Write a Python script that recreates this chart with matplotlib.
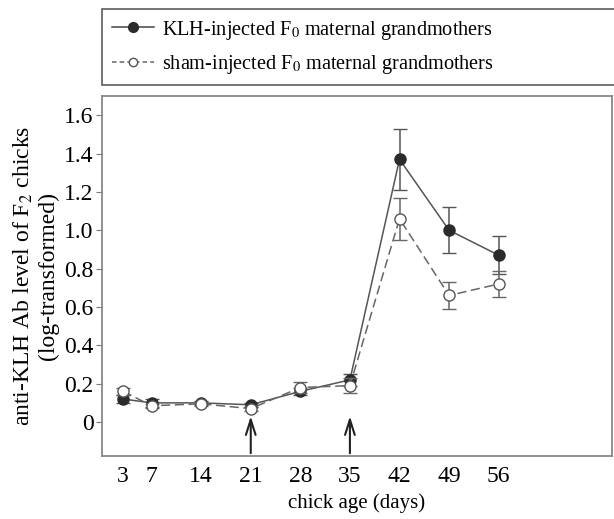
import matplotlib.pyplot as plt
from matplotlib.lines import Line2D

plt.rcParams['font.family'] = ['Liberation Serif', 'DejaVu Serif']
plt.rcParams['mathtext.fontset'] = 'stix'

days = [3, 7, 14, 21, 28, 35, 42, 49, 56]
klh = [0.12, 0.10, 0.10, 0.09, 0.16, 0.22, 1.37, 1.00, 0.87]
klh_err = [0.02, 0.02, 0.01, 0.01, 0.02, 0.03, 0.16, 0.12, 0.10]
sham = [0.16, 0.085, 0.095, 0.07, 0.18, 0.19, 1.06, 0.66, 0.72]
sham_err = [0.02, 0.01, 0.01, 0.01, 0.03, 0.04, 0.11, 0.07, 0.07]
injection_days = [21, 35]

fig = plt.figure(figsize=(6.14, 5.19), dpi=100)
ax = fig.add_axes([102/614, 1-456/519, (612-102)/614, (456-96)/519])

ax.errorbar(days, klh, yerr=klh_err, color='#555555', lw=1.1, marker='o', ms=8,
            mfc='#2b2b2b', mec='#2b2b2b', capsize=5, elinewidth=1.1, ecolor='#555555', zorder=3)
ax.errorbar(days, sham, yerr=sham_err, color='#666666', lw=1.1, ls=(0, (6, 3)), marker='o', ms=8,
            mfc='white', mec='#555555', capsize=5, elinewidth=1.1, ecolor='#666666', zorder=4)

for d in injection_days:
    ax.annotate('', xy=(d, 0.045), xytext=(d, -0.177),
                arrowprops=dict(arrowstyle='->,head_length=1.1,head_width=0.35', color='#222222', lw=1.5))

ax.set_xlim(0, 72)
ax.set_ylim(-0.177, 1.70)
ax.set_xticks(days)
ax.set_yticks([0, 0.2, 0.4, 0.6, 0.8, 1.0, 1.2, 1.4, 1.6])
ax.set_yticklabels(['0', '0.2', '0.4', '0.6', '0.8', '1.0', '1.2', '1.4', '1.6'])
ax.tick_params(axis='both', labelsize=17, color='#777777')
ax.tick_params(axis='x', length=0, pad=7)
ax.tick_params(axis='y', length=4, pad=2)
for s in ['left', 'bottom', 'top', 'right']:
    ax.spines[s].set_color('#888888')
    ax.spines[s].set_linewidth(1.3)

ax.set_xlabel('chick age (days)', fontsize=15, labelpad=5)
ax.set_ylabel('anti-KLH Ab level of F$_2$ chicks\n(log-transformed)', fontsize=17, labelpad=4,
              linespacing=1.15)

handles = [
    Line2D([], [], color='#444444', lw=1.1, marker='o', ms=7, mfc='#2b2b2b', mec='#2b2b2b'),
    Line2D([], [], color='#666666', lw=1.1, ls=(0, (3, 2)), marker='o', ms=6, mfc='white', mec='#555555'),
]
labels = [r'KLH-injected F$_0$ maternal grandmothers', r'sham-injected F$_0$ maternal grandmothers']
leg = fig.legend(handles, labels, loc='upper left', bbox_to_anchor=(102/614, 1-9/519, 0.99-102/614+0.02, 0.0),
                 mode='expand', fontsize=14.6, frameon=True, fancybox=False, edgecolor='#333333',
                 handlelength=2.1, borderpad=0.47, labelspacing=0.55, handletextpad=0.4,
                 borderaxespad=0)
leg.get_frame().set_linewidth(1.2)

fig.savefig('out.png', dpi=100)
